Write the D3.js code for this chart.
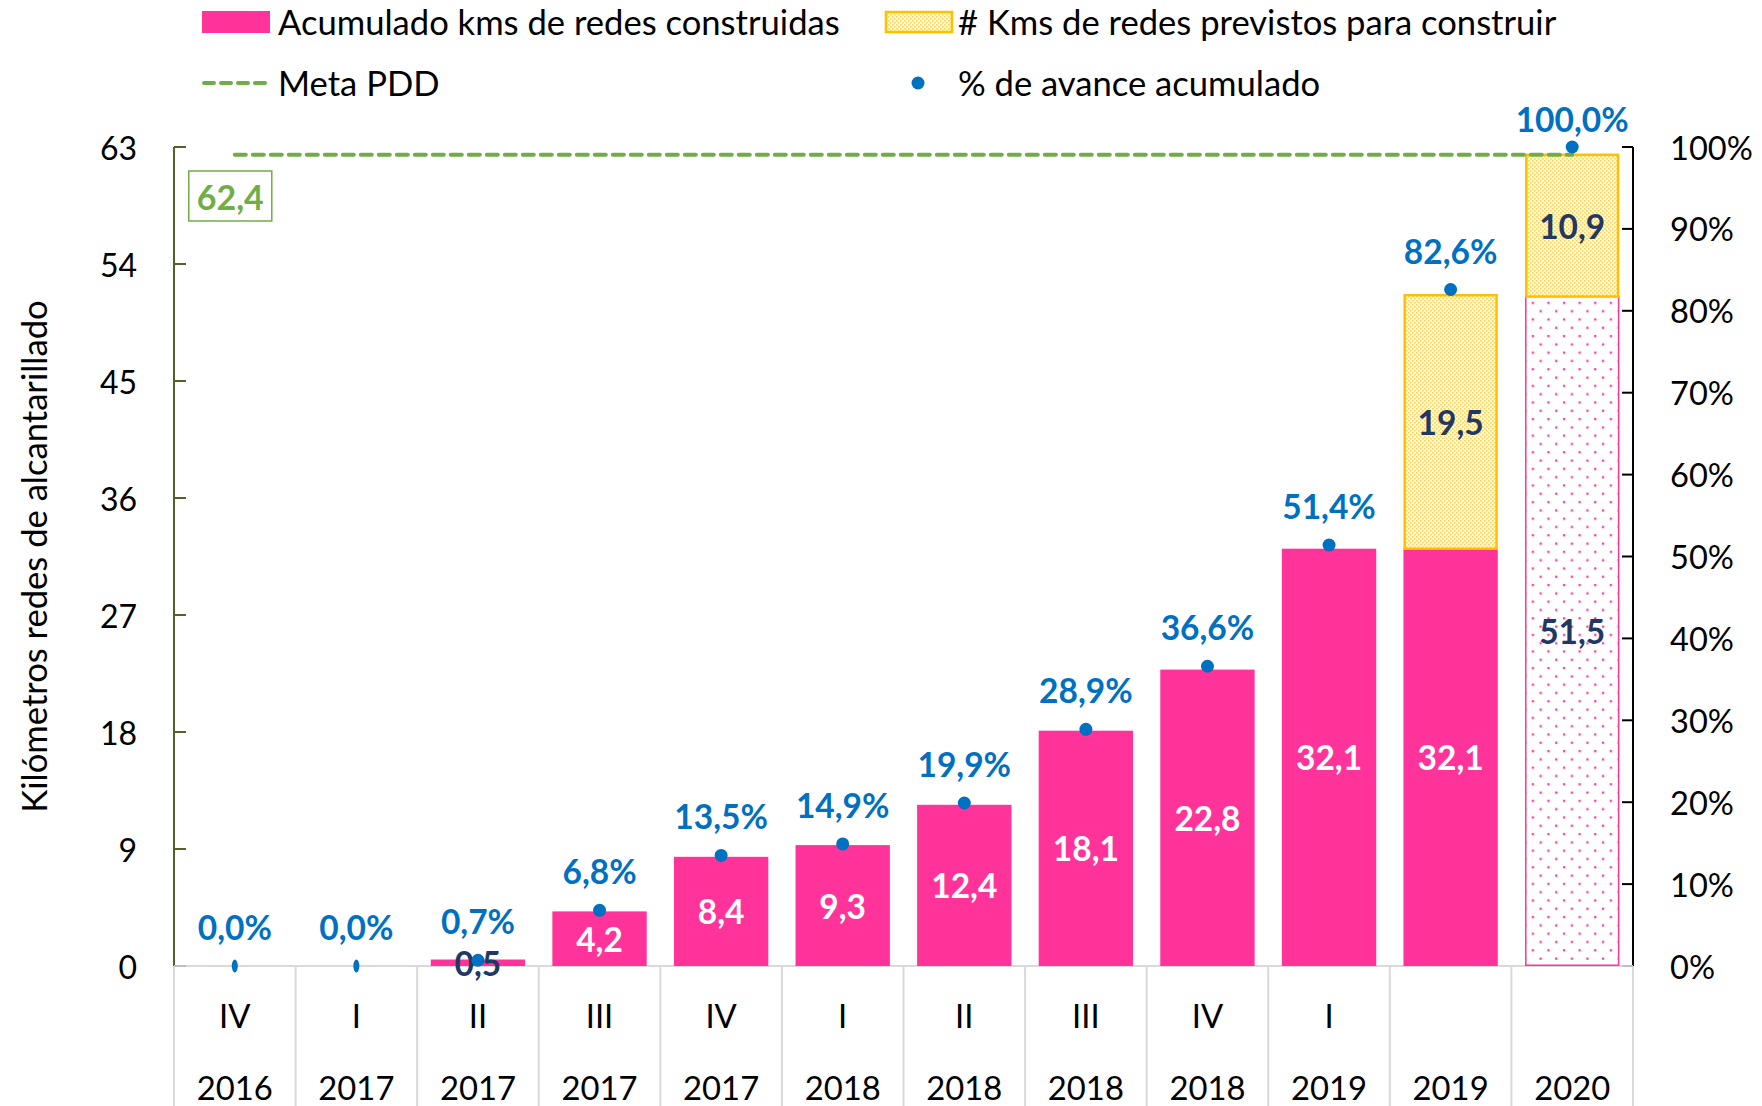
<!DOCTYPE html>
<html><head><meta charset="utf-8">
<script src="https://cdn.jsdelivr.net/npm/d3@7"></script>
<style>
html,body{margin:0;padding:0;background:#fff;}
svg{display:block;font-family:Lato,"Open Sans",sans-serif;}
</style></head>
<body>
<svg id="chart" width="1762" height="1106"></svg>
<script>
// ---- data ----
const quarters = ["IV","I","II","III","IV","I","II","III","IV","I","",""];
const years = ["2016","2017","2017","2017","2017","2018","2018","2018","2018","2019","2019","2020"];
const built = [0,0,0.5,4.2,8.4,9.3,12.4,18.1,22.8,32.1,32.1,51.5];
const forecastBase = [false,false,false,false,false,false,false,false,false,false,false,true];
const planned = [0,0,0,0,0,0,0,0,0,0,19.5,10.9];
const pctAdvance = [0,0,0.7,6.8,13.5,14.9,19.9,28.9,36.6,51.4,82.6,100];
const metaPDD = 62.4;
const leftTicks = [0,9,18,27,36,45,54,63];
const rightTicks = [0,10,20,30,40,50,60,70,80,90,100];
const legendLabels = ["Acumulado kms de redes construidas","# Kms de redes previstos para construir","Meta PDD","% de avance acumulado"];
const yTitle = "Kilómetros redes de alcantarillado";

// ---- layout ----
const X0 = 174, X1 = 1633, Y0 = 966, Y1 = 147;
const PINK = "#FF3399", YEL = "#FFC000", BLUE = "#0070C0", GREEN = "#70AD47", NAVY = "#1F3864";
const FS = 32, FST = 34.6, FSB = 33.5;

const svg = d3.select("#chart");
const idx = d3.range(quarters.length);
const x = d3.scaleBand().domain(idx).range([X0, X1]).paddingInner(0.224).paddingOuter(0.112);
const y = d3.scaleLinear().domain([0, 63]).range([Y0, Y1]);
const yP = d3.scaleLinear().domain([0, 100]).range([Y0, Y1]);
const step = x.step();
const cx = i => x(i) + x.bandwidth() / 2;
const fmt = v => d3.format(".1f")(v).replace(".", ",");

// patterns
const defs = svg.append("defs");
const py = defs.append("pattern").attr("id","yelDots").attr("patternUnits","userSpaceOnUse").attr("width",4).attr("height",4);
py.append("rect").attr("width",4).attr("height",4).attr("fill","#FFF9E3");
py.append("rect").attr("x",0).attr("y",0).attr("width",1.6).attr("height",1.6).attr("fill","#FFD34F");
py.append("rect").attr("x",2).attr("y",2).attr("width",1.6).attr("height",1.6).attr("fill","#FFD34F");
const pp = defs.append("pattern").attr("id","pinkDots").attr("patternUnits","userSpaceOnUse").attr("width",15.6).attr("height",16.6);
pp.append("rect").attr("width",15.6).attr("height",16.6).attr("fill","#fff");
pp.append("rect").attr("x",3).attr("y",3).attr("width",2.2).attr("height",2.2).attr("fill",PINK);
pp.append("rect").attr("x",10.8).attr("y",11.3).attr("width",2.2).attr("height",2.2).attr("fill",PINK);

// category grid (below plot)
const grid = svg.append("g").attr("stroke","#D9D9D9").attr("stroke-width",2);
grid.append("line").attr("x1",X0).attr("x2",X1).attr("y1",Y0).attr("y2",Y0);
d3.range(quarters.length + 1).forEach(i => {
  const gx = X0 + i * step;
  grid.append("line").attr("x1",gx).attr("x2",gx).attr("y1",Y0).attr("y2",1106);
});

// category labels
const catG = svg.append("g").attr("font-size",FS+0.8).attr("text-anchor","middle").attr("fill","#000");
idx.forEach(i => {
  catG.append("text").attr("x",cx(i)).attr("y",1015).attr("dominant-baseline","central").text(quarters[i]);
  catG.append("text").attr("x",cx(i)).attr("y",1087).attr("dominant-baseline","central").text(years[i]);
});

// bars
const bars = svg.append("g");
idx.forEach(i => {
  if (built[i] > 0) {
    const fc = forecastBase[i];
    bars.append("rect").attr("x",x(i)+(fc?0.75:0)).attr("width",x.bandwidth()-(fc?1.5:0))
      .attr("y",y(built[i])).attr("height",y(0)-y(built[i])-(fc?0.75:0))
      .attr("fill",fc?"url(#pinkDots)":PINK)
      .attr("stroke",fc?PINK:"none").attr("stroke-width",1.5);
  }
  if (planned[i] > 0) {
    bars.append("rect").attr("x",x(i)+1.25).attr("width",x.bandwidth()-2.5)
      .attr("y",y(built[i]+planned[i])).attr("height",y(built[i])-y(built[i]+planned[i]))
      .attr("fill","url(#yelDots)").attr("stroke",YEL).attr("stroke-width",2.5);
  }
});

// bar labels
const bl = svg.append("g").attr("font-size",FSB).attr("font-weight","bold").attr("text-anchor","middle");
idx.forEach(i => {
  if (built[i] > 0) {
    const dark = forecastBase[i] || built[i] < 1;
    bl.append("text").attr("x",cx(i)).attr("y",(y(0)+y(built[i]))/2).attr("dominant-baseline","central")
      .attr("fill",dark?NAVY:"#fff").text(fmt(built[i]));
  }
  if (planned[i] > 0) {
    bl.append("text").attr("x",cx(i)).attr("y",(y(built[i])+y(built[i]+planned[i]))/2).attr("dominant-baseline","central")
      .attr("fill",NAVY).text(fmt(planned[i]));
  }
});

// left axis
const la = svg.append("g");
la.append("line").attr("x1",X0).attr("x2",X0).attr("y1",Y1).attr("y2",Y0).attr("stroke","#4F6228").attr("stroke-width",2);
leftTicks.forEach(t => {
  la.append("line").attr("x1",X0).attr("x2",X0+12).attr("y1",y(t)).attr("y2",y(t)).attr("stroke",t===0?"#BFBFBF":"#4F6228").attr("stroke-width",2);
  la.append("text").attr("x",137).attr("y",y(t)).attr("dominant-baseline","central").attr("text-anchor","end").attr("font-size",FS).text(t);
});
// right axis
const ra = svg.append("g");
ra.append("line").attr("x1",X1).attr("x2",X1).attr("y1",Y1).attr("y2",Y0).attr("stroke","#000").attr("stroke-width",2);
rightTicks.forEach(t => {
  ra.append("line").attr("x1",X1-11).attr("x2",X1).attr("y1",yP(t)).attr("y2",yP(t)).attr("stroke",t===0?"#BFBFBF":"#000").attr("stroke-width",2);
  ra.append("text").attr("x",1670).attr("y",yP(t)).attr("dominant-baseline","central").attr("font-size",FS+0.6).text(t+"%");
});

// y title
svg.append("text").attr("transform",`translate(33,${(Y0+Y1)/2}) rotate(-90)`).attr("text-anchor","middle")
  .attr("dominant-baseline","central").attr("font-size",FST).text(yTitle);

// meta line
svg.append("line").attr("x1",cx(0)).attr("x2",cx(idx.length-1)).attr("y1",y(metaPDD)).attr("y2",y(metaPDD))
  .attr("stroke",GREEN).attr("stroke-width",4).attr("stroke-dasharray","11 7").attr("stroke-linecap","round");
// meta label box
const mb = svg.append("g");
mb.append("rect").attr("x",cx(0)-46).attr("y",171).attr("width",83).attr("height",50).attr("fill","#fff").attr("stroke",GREEN).attr("stroke-width",1.5);
mb.append("text").attr("x",cx(0)-4.5).attr("y",196).attr("text-anchor","middle").attr("dominant-baseline","central")
  .attr("font-size",FSB+0.5).attr("font-weight","bold").attr("fill",GREEN).text(fmt(metaPDD));

// percent points
const pg = svg.append("g");
idx.forEach(i => {
  const dy = yP(pctAdvance[i]);
  pg.append("ellipse").attr("cx",cx(i)).attr("cy",dy).attr("rx",pctAdvance[i]===0?3:6.5).attr("ry",6.5).attr("fill",BLUE);
  pg.append("text").attr("x",cx(i)).attr("y",Math.max(dy-39,119)).attr("text-anchor","middle").attr("dominant-baseline","central")
    .attr("font-size",FSB).attr("font-weight","bold").attr("fill",BLUE).text(fmt(pctAdvance[i])+"%");
});

// legend
const lg = svg.append("g").attr("font-size",FST);
lg.append("rect").attr("x",202).attr("y",11).attr("width",68).attr("height",22).attr("fill",PINK);
lg.append("text").attr("x",278).attr("y",21).attr("dominant-baseline","central").text(legendLabels[0]);
lg.append("rect").attr("x",886).attr("y",12).attr("width",66).attr("height",20).attr("fill","url(#yelDots)").attr("stroke",YEL).attr("stroke-width",2.5);
lg.append("text").attr("x",958).attr("y",21).attr("dominant-baseline","central").text(legendLabels[1]);
lg.append("line").attr("x1",204).attr("x2",268).attr("y1",83).attr("y2",83).attr("stroke",GREEN).attr("stroke-width",4).attr("stroke-dasharray","10 7").attr("stroke-linecap","round");
lg.append("text").attr("x",278).attr("y",82).attr("dominant-baseline","central").text(legendLabels[2]);
lg.append("circle").attr("cx",918).attr("cy",83).attr("r",6.5).attr("fill",BLUE);
lg.append("text").attr("x",958).attr("y",82).attr("dominant-baseline","central").text(legendLabels[3]);
</script>
</body></html>
